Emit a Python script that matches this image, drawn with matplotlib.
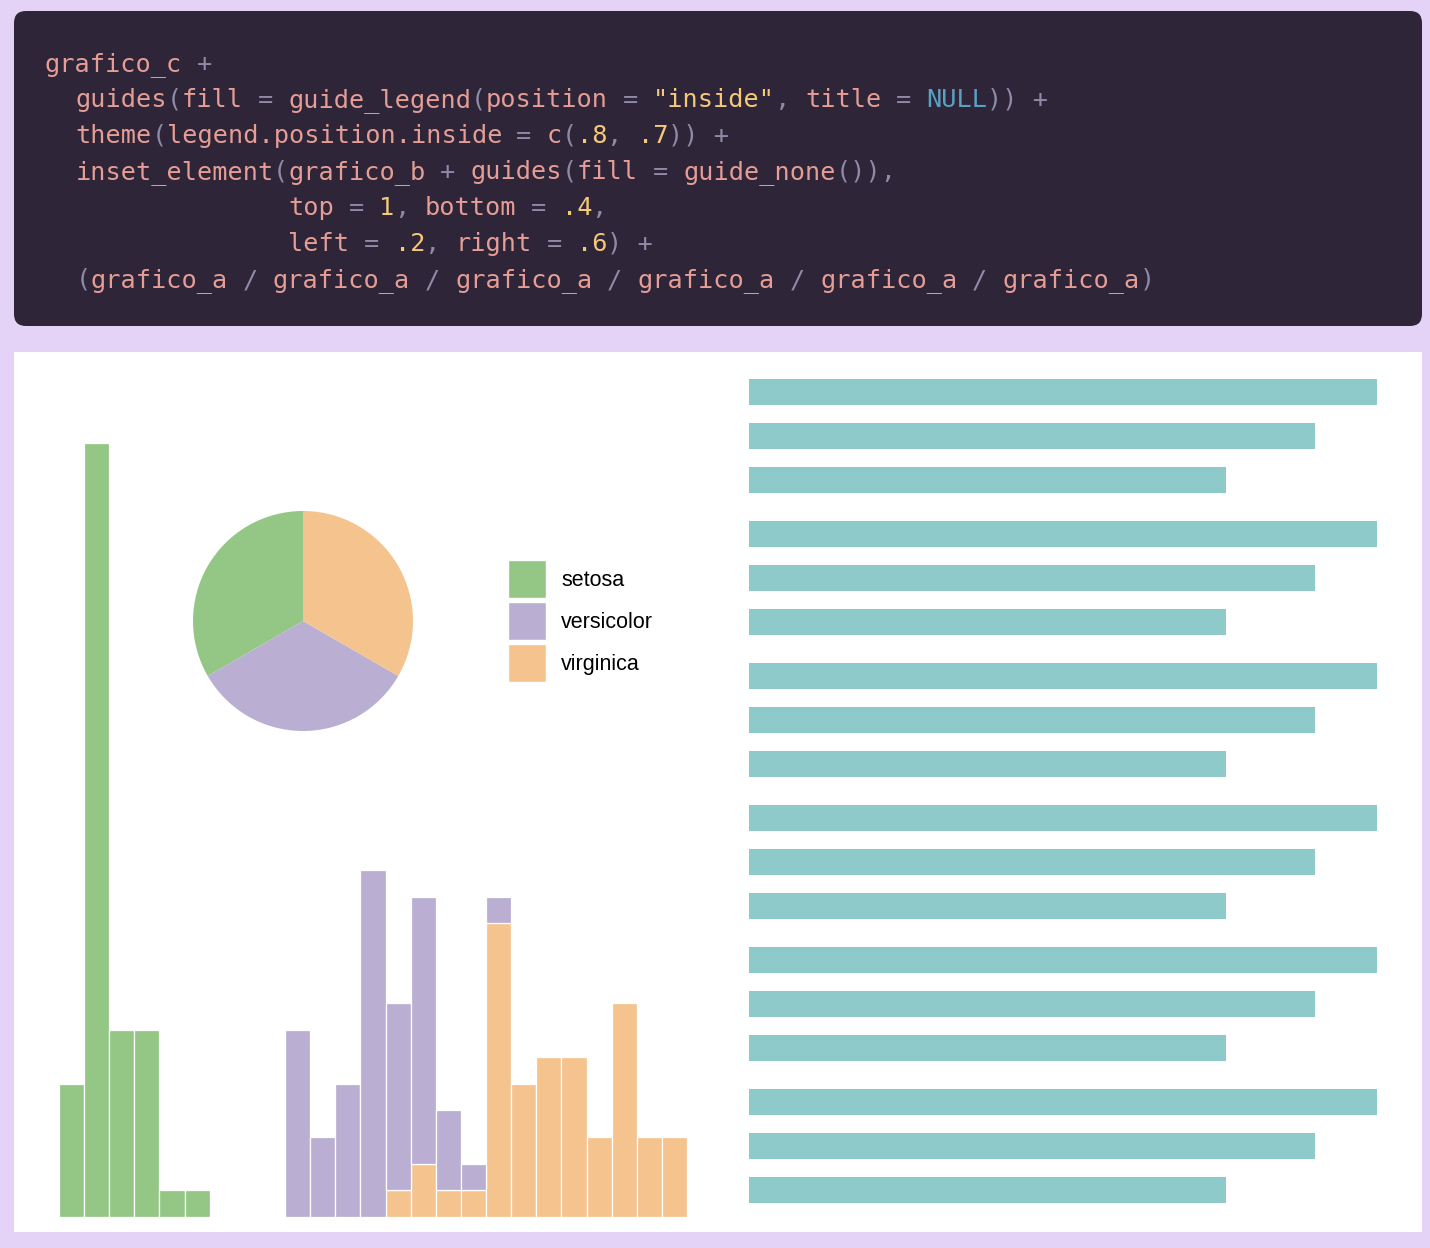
import matplotlib
matplotlib.use("Agg")
import matplotlib.pyplot as plt
from matplotlib.patches import FancyBboxPatch, Rectangle
import numpy as np

# ---------------- data ----------------
species = ["setosa", "versicolor", "virginica"]
colors = {"setosa": "#94C785", "versicolor": "#BAAFD2", "virginica": "#F4C38E"}

# histogram of Petal.Width (binwidth 0.1), counts per species
bin_centers = [0.1, 0.2, 0.3, 0.4, 0.5, 0.6, 0.7, 0.8, 0.9, 1.0, 1.1, 1.2, 1.3,
               1.4, 1.5, 1.6, 1.7, 1.8, 1.9, 2.0, 2.1, 2.2, 2.3, 2.4, 2.5]
hist_setosa = [5, 29, 7, 7, 1, 1, 0, 0, 0, 0, 0, 0, 0,
               0, 0, 0, 0, 0, 0, 0, 0, 0, 0, 0, 0]
hist_versicolor = [0, 0, 0, 0, 0, 0, 0, 0, 0, 7, 3, 5, 13,
                   7, 10, 3, 1, 1, 0, 0, 0, 0, 0, 0, 0]
hist_virginica = [0, 0, 0, 0, 0, 0, 0, 0, 0, 0, 0, 0, 0,
                  1, 2, 1, 1, 11, 5, 6, 6, 3, 8, 3, 3]

# pie: count per species
pie_counts = [50, 50, 50]

# bar chart: mean Sepal.Length per species
mean_sepal_length = [5.006, 5.936, 6.588]
n_repeats = 6

# ---------------- layout helpers ----------------
W, H = 1430, 1248
DPI = 100
fig = plt.figure(figsize=(W / DPI, H / DPI), dpi=DPI)
LAVENDER = "#E4D3F6"
fig.patch.set_facecolor(LAVENDER)


def box(x0, y0, x1, y1):
    return [x0 / W, 1 - y1 / H, (x1 - x0) / W, (y1 - y0) / H]


# background pixel axes
bg = fig.add_axes([0, 0, 1, 1], zorder=0)
bg.set_xlim(0, W)
bg.set_ylim(H, 0)
bg.axis("off")
bg.add_patch(FancyBboxPatch((14, 11), 1408, 315,
                            boxstyle="round,pad=0,rounding_size=12",
                            facecolor="#2E2539", edgecolor="none"))
bg.add_patch(Rectangle((14, 352), 1408, 880, facecolor="white", edgecolor="none"))

# ---------------- code block ----------------
PINK = "#E59D95"
GREY = "#8E8AA8"
YEL = "#F5C978"
BLUE = "#5AA0C0"
code_lines = [
    [("grafico_c", PINK), (" +", GREY)],
    [("  guides", PINK), ("(", GREY), ("fill", PINK), (" = ", GREY),
     ("guide_legend", PINK), ("(", GREY), ("position", PINK), (" = ", GREY),
     ('"inside"', YEL), (", ", GREY), ("title", PINK), (" = ", GREY),
     ("NULL", BLUE), (")) +", GREY)],
    [("  theme", PINK), ("(", GREY), ("legend.position.inside", PINK),
     (" = ", GREY), ("c", PINK), ("(", GREY), (".8", YEL), (", ", GREY),
     (".7", YEL), (")) +", GREY)],
    [("  inset_element", PINK), ("(", GREY), ("grafico_b", PINK), (" + ", GREY),
     ("guides", PINK), ("(", GREY), ("fill", PINK), (" = ", GREY),
     ("guide_none", PINK), ("()),", GREY)],
    [("                top", PINK), (" = ", GREY), ("1", YEL), (", ", GREY),
     ("bottom", PINK), (" = ", GREY), (".4", YEL), (",", GREY)],
    [("                left", PINK), (" = ", GREY), (".2", YEL), (", ", GREY),
     ("right", PINK), (" = ", GREY), (".6", YEL), (") +", GREY)],
    [("  (", GREY), ("grafico_a", PINK), (" / ", GREY), ("grafico_a", PINK),
     (" / ", GREY), ("grafico_a", PINK), (" / ", GREY), ("grafico_a", PINK),
     (" / ", GREY), ("grafico_a", PINK), (" / ", GREY), ("grafico_a", PINK),
     (")", GREY)],
]
pitch = 15.2
fs_px = pitch / 0.602
fs_pt = fs_px * 72 / DPI
x_start, y_base, line_h = 45, 71, 36
for i, tokens in enumerate(code_lines):
    col = 0
    for tok, c in tokens:
        stripped = tok.lstrip(" ")
        lead = len(tok) - len(stripped)
        if stripped:
            bg.text(x_start + (col + lead) * pitch, y_base + i * line_h, stripped,
                    color=c, fontsize=fs_pt, family="DejaVu Sans Mono",
                    va="baseline", ha="left")
        col += len(tok)

# ---------------- histogram (grafico_c) ----------------
ax_h = fig.add_axes(box(27.6, 404, 718.4, 1217), zorder=2)
ax_h.set_xlim(-0.075, 2.675)
ax_h.set_ylim(0, 30.45)
ax_h.axis("off")
bottom = np.zeros(len(bin_centers))
for sp, vals in [("virginica", hist_virginica), ("versicolor", hist_versicolor),
                 ("setosa", hist_setosa)]:
    v = np.array(vals, dtype=float)
    m = v > 0
    ax_h.bar(np.array(bin_centers)[m], v[m], width=0.1, bottom=bottom[m],
             color=colors[sp], edgecolor="white", linewidth=0.9)
    bottom += v

# ---------------- pie inset (grafico_b) ----------------
ax_p = fig.add_axes(box(193, 511, 413, 731), zorder=3)
wedges, _ = ax_p.pie(pie_counts, colors=[colors[s] for s in species],
                     startangle=90, counterclock=True, radius=1,
                     wedgeprops=dict(linewidth=0))
ax_p.set_xlim(-1, 1)
ax_p.set_ylim(-1, 1)
ax_p.set_aspect("equal")
ax_p.axis("off")

# legend
leg_fs_pt = 15.5
leg_fs_px = leg_fs_pt * DPI / 72
key_px = 38
hh = (key_px / leg_fs_px - 0.245) / 0.65
handles = [Rectangle((0, 0), 1, 1, facecolor=colors[s], edgecolor="white", linewidth=1)
           for s in species]
fig.legend(handles, species, loc="upper left",
           bbox_to_anchor=(508 / W, 1 - 560 / H), bbox_transform=fig.transFigure,
           frameon=False, borderpad=0, borderaxespad=0,
           handlelength=key_px / leg_fs_px, handleheight=hh,
           labelspacing=4 / leg_fs_px, handletextpad=15 / leg_fs_px,
           prop={"family": "Liberation Sans", "size": leg_fs_pt})

# ---------------- bars (grafico_a x 6) ----------------
TEAL = "#8FCACB"
for i in range(n_repeats):
    top = 365.6 + 142 * i
    ax_b = fig.add_axes(box(717.6, top, 1408.4, top + 140.8), zorder=2)
    ax_b.barh([1, 2, 3], mean_sepal_length, height=0.6, color=TEAL, linewidth=0)
    ax_b.set_xlim(-0.329, 6.917)
    ax_b.set_ylim(0.4, 3.6)
    ax_b.axis("off")

fig.savefig("out.png", dpi=DPI, facecolor=fig.get_facecolor())
